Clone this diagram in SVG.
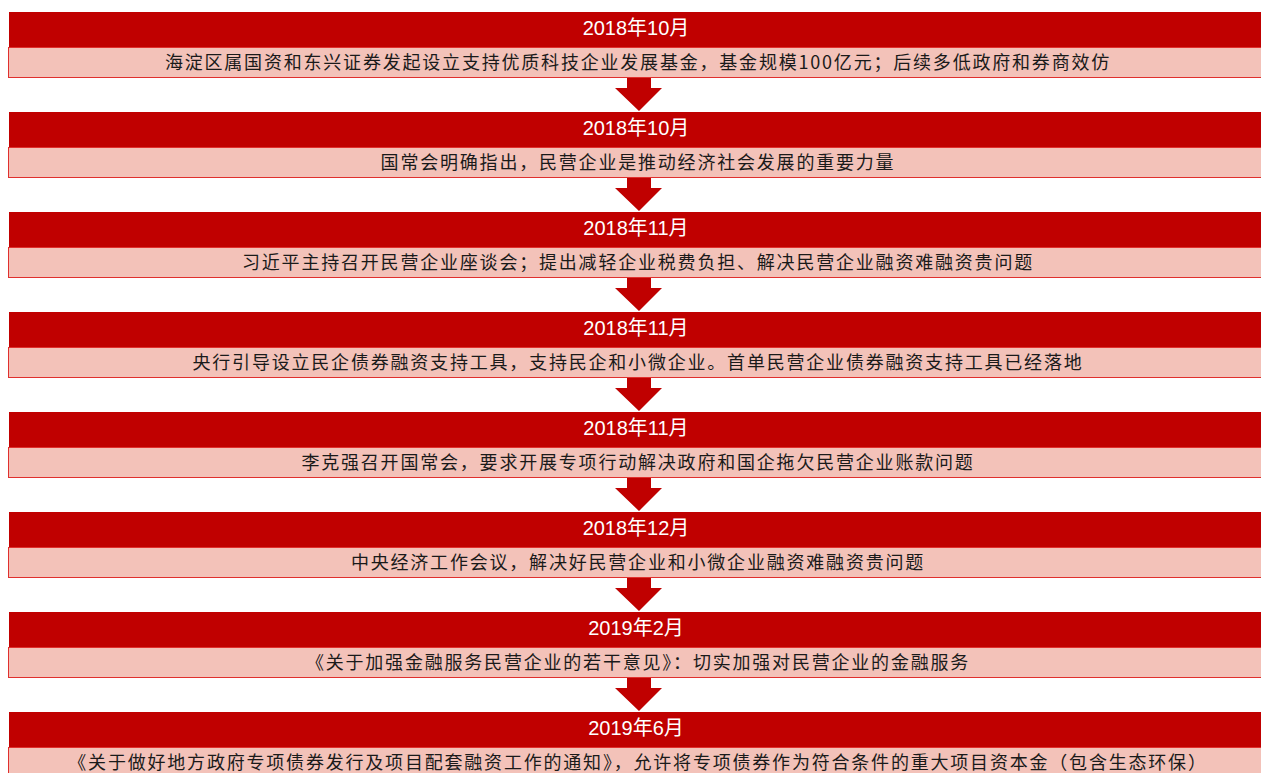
<svg xmlns="http://www.w3.org/2000/svg" width="1261" height="773" viewBox="0 0 1261 773">
<style>
.hd{fill:#c00000;}
.bd{fill:#f3c2b9;stroke:#e0302e;stroke-width:1;}
.ht{font-family:"Liberation Sans","Noto Sans CJK SC",sans-serif;font-size:20px;fill:#ffffff;text-anchor:middle;}
.bt{font-family:"Noto Sans CJK SC","Liberation Sans",sans-serif;font-size:18px;letter-spacing:1.8px;fill:#1a1a1a;text-anchor:middle;}
.ar{fill:#c00000;}
</style>
<defs>
<path id="arrow" d="M627,0 H651 V11 H662 L639,34 L615,11 H627 Z"/>
</defs>
<rect width="1261" height="773" fill="#ffffff"/>
<g id="connectors">
<use href="#arrow" class="ar" transform="translate(0,77)"/>
<use href="#arrow" class="ar" transform="translate(0,177)"/>
<use href="#arrow" class="ar" transform="translate(0,277)"/>
<use href="#arrow" class="ar" transform="translate(0,377)"/>
<use href="#arrow" class="ar" transform="translate(0,477)"/>
<use href="#arrow" class="ar" transform="translate(0,577)"/>
<use href="#arrow" class="ar" transform="translate(0,677)"/>
</g>
<g id="node1" transform="translate(0,0)">
<rect class="hd" x="9" y="12" width="1260" height="35"/>
<rect class="bd" x="8.5" y="47.5" width="1260" height="30"/>
<text class="ht" x="636" y="35">2018年10月</text>
<text class="bt" x="638" y="69">海淀区属国资和东兴证券发起设立支持优质科技企业发展基金，基金规模100亿元；后续多低政府和券商效仿</text>
</g>
<g id="node2" transform="translate(0,100)">
<rect class="hd" x="9" y="12" width="1260" height="35"/>
<rect class="bd" x="8.5" y="47.5" width="1260" height="30"/>
<text class="ht" x="636" y="35">2018年10月</text>
<text class="bt" x="638" y="69">国常会明确指出，民营企业是推动经济社会发展的重要力量</text>
</g>
<g id="node3" transform="translate(0,200)">
<rect class="hd" x="9" y="12" width="1260" height="35"/>
<rect class="bd" x="8.5" y="47.5" width="1260" height="30"/>
<text class="ht" x="636" y="35">2018年11月</text>
<text class="bt" x="638" y="69">习近平主持召开民营企业座谈会；提出减轻企业税费负担、解决民营企业融资难融资贵问题</text>
</g>
<g id="node4" transform="translate(0,300)">
<rect class="hd" x="9" y="12" width="1260" height="35"/>
<rect class="bd" x="8.5" y="47.5" width="1260" height="30"/>
<text class="ht" x="636" y="35">2018年11月</text>
<text class="bt" x="638" y="69">央行引导设立民企债券融资支持工具，支持民企和小微企业。首单民营企业债券融资支持工具已经落地</text>
</g>
<g id="node5" transform="translate(0,400)">
<rect class="hd" x="9" y="12" width="1260" height="35"/>
<rect class="bd" x="8.5" y="47.5" width="1260" height="30"/>
<text class="ht" x="636" y="35">2018年11月</text>
<text class="bt" x="638" y="69">李克强召开国常会，要求开展专项行动解决政府和国企拖欠民营企业账款问题</text>
</g>
<g id="node6" transform="translate(0,500)">
<rect class="hd" x="9" y="12" width="1260" height="35"/>
<rect class="bd" x="8.5" y="47.5" width="1260" height="30"/>
<text class="ht" x="636" y="35">2018年12月</text>
<text class="bt" x="638" y="69">中央经济工作会议，解决好民营企业和小微企业融资难融资贵问题</text>
</g>
<g id="node7" transform="translate(0,600)">
<rect class="hd" x="9" y="12" width="1260" height="35"/>
<rect class="bd" x="8.5" y="47.5" width="1260" height="30"/>
<text class="ht" x="636" y="35">2019年2月</text>
<text class="bt" x="638" y="69">《关于加强金融服务民营企业的若干意见》：切实加强对民营企业的金融服务</text>
</g>
<g id="node8" transform="translate(0,700)">
<rect class="hd" x="9" y="12" width="1260" height="35"/>
<rect class="bd" x="8.5" y="47.5" width="1260" height="30"/>
<text class="ht" x="636" y="35">2019年6月</text>
<text class="bt" x="638" y="69">《关于做好地方政府专项债券发行及项目配套融资工作的通知》，允许将专项债券作为符合条件的重大项目资本金（包含生态环保）</text>
</g>
</svg>
